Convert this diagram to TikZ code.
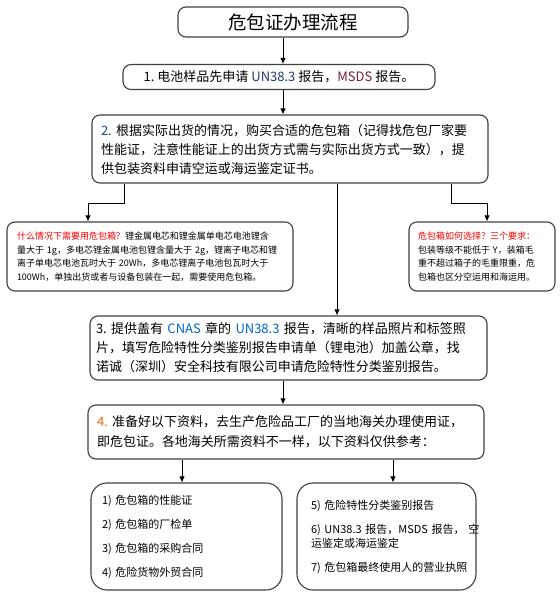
\documentclass[tikz,border=0pt]{standalone}
\usepackage{fontspec}
\setmainfont{Noto Sans CJK SC}
\usetikzlibrary{arrows.meta}
\definecolor{edgegray}{RGB}{64,64,64}
\definecolor{numblue}{RGB}{31,73,125}
\definecolor{unblue}{RGB}{31,56,120}
\definecolor{msdsred}{RGB}{120,30,60}
\definecolor{cnasblue}{RGB}{0,102,204}
\definecolor{numorange}{RGB}{228,108,10}
\definecolor{hintred}{RGB}{255,0,0}
\tikzset{
	box/.style={draw=edgegray, line width=1.1pt, rounded corners=8pt, inner ysep=0pt, align=left},
	docbox/.style={box, rounded corners=16pt},
	arr/.style={line width=0.9pt, -{Latex[length=6pt,width=5.5pt]}}
}
\begin{document}
\begin{tikzpicture}[x=1pt,y=-1pt]
	\useasboundingbox (0,0) rectangle (560,598);
	\node[box, align=center, inner xsep=0pt, minimum width=230pt, minimum height=30pt, font=\fontsize{18.5}{20}\selectfont] (title) at (293,22) {危包证办理流程};
	\node[box, align=center, inner xsep=0pt, minimum width=312pt, minimum height=25pt, font=\fontsize{13}{16}\selectfont] (n1) at (279,77)
		{1.\ 电池样品先申请 \textcolor{unblue}{UN38.3} 报告，\textcolor{msdsred}{MSDS} 报告。};
	\node[box, inner xsep=9pt, text width=378pt, minimum height=68pt, font=\fontsize{13}{19}\selectfont] (n2) at (290,149)
		{\textcolor{numblue}{2.}~根据实际出货的情况，购买合适的危包箱（记得找危包厂家要\\
		性能证，注意性能证上的出货方式需与实际出货方式一致），提\\
		供包装资料申请空运或海运鉴定证书。};
	\node[box, inner xsep=10pt, text width=266pt, minimum height=69pt, font=\fontsize{9}{13.6}\selectfont] (noteL) at (150,256.5)
		{\textcolor{hintred}{什么情况下需要用危包箱？}锂金属电芯和锂金属单电芯电池锂含\\
		量大于~1g，多电芯锂金属电池包锂含量大于~2g，锂离子电芯和锂\\
		离子单电芯电池瓦时大于~20Wh，多电芯锂离子电池包瓦时大于\\
		100Wh，单独出货或者与设备包装在一起，需要使用危包箱。};
	\node[box, inner xsep=9pt, text width=128pt, minimum height=69pt, font=\fontsize{9}{13.6}\selectfont] (noteR) at (482,256.5)
		{\textcolor{hintred}{危包箱如何选择？三个要求：}\\
		包装等级不能低于~Y，装箱毛\\
		重不超过箱子的毛重限重，危\\
		包箱也区分空运用和海运用。};
	\node[box, inner xsep=6pt, text width=385pt, minimum height=64pt, font=\fontsize{13}{19}\selectfont] (n3) at (288.5,348)
		{3.~提供盖有~\textcolor{cnasblue}{CNAS}~章的~\textcolor{cnasblue}{UN38.3}~报告，清晰的样品照片和标签照\\
		片，填写危险特性分类鉴别报告申请单（锂电池）加盖公章，找\\
		诺诚（深圳）安全科技有限公司申请危险特性分类鉴别报告。};
	\node[box, inner xsep=9pt, text width=378pt, minimum height=54pt, font=\fontsize{13}{20}\selectfont] (n4) at (286,432)
		{\textcolor{numorange}{4.}~准备好以下资料，去生产危险品工厂的当地海关办理使用证，\\
		即危包证。各地海关所需资料不一样，以下资料仅供参考：};
	\node[docbox, inner xsep=11pt, text width=169pt, minimum height=107pt, font=\fontsize{11}{24}\selectfont] (docsA) at (186.5,536.5)
		{1)~危包箱的性能证\\
		2)~危包箱的厂检单\\
		3)~危包箱的采购合同\\
		4)~危险货物外贸合同};
	\node[docbox, inner xsep=14pt, text width=151pt, minimum height=107pt, font=\fontsize{11}{14}\selectfont] (docsB) at (386.5,536.5)
		{5)~危险特性分类鉴别报告\\[10pt]
		6)~UN38.3~报告，MSDS~报告，~空\\
		运鉴定或海运鉴定\\[10pt]
		7)~危包箱最终使用人的营业执照};
	\coordinate (spine) at (283,0);
	\coordinate (mid) at (337,0);
	\coordinate (tapL) at (124,203);
	\coordinate (dropL) at (88,203);
	\coordinate (tapR) at (451,203);
	\coordinate (dropR) at (487,203);
	\coordinate (legL) at (182,0);
	\coordinate (legR) at (393,0);
	\draw[arr] (title.south -| spine) -- (n1.north -| spine);
	\draw[arr] (n1.south -| spine) -- (n2.north -| spine);
	\draw[arr] (n2.south -| tapL) -- (tapL) -- (dropL) -- (noteL.north -| dropL);
	\draw[arr] (n2.south -| tapR) -- (tapR) -- (dropR) -- (noteR.north -| dropR);
	\draw[arr] (n2.south -| mid) -- (n3.north -| mid);
	\draw[arr] (n3.south -| spine) -- (n4.north -| spine);
	\draw[arr] (n4.south -| legL) -- (docsA.north -| legL);
	\draw[arr] (n4.south -| legR) -- (docsB.north -| legR);
\end{tikzpicture}
\end{document}
